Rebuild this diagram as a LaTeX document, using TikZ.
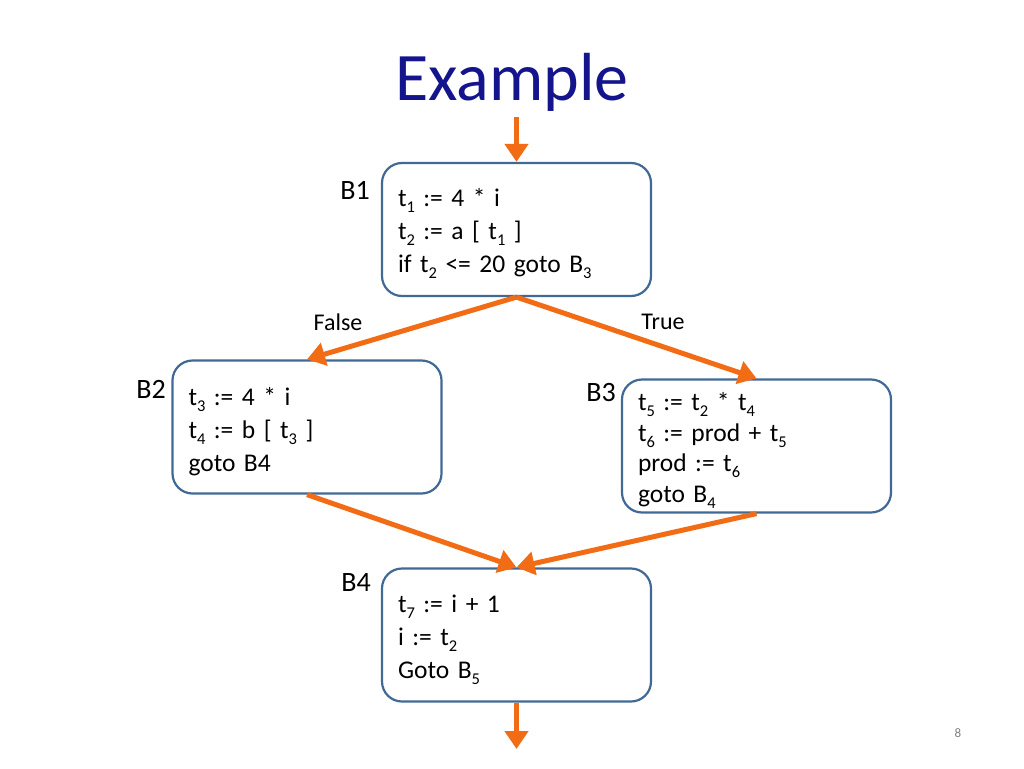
\documentclass[tikz,border=0pt]{standalone}
\usepackage{fontspec}
\setmainfont{Carlito}
\newfontfamily\codeff[WordSpace=0.6]{Carlito}
\usetikzlibrary{arrows.meta}
\definecolor{boxline}{RGB}{65,105,150}
\definecolor{arrowc}{RGB}{242,108,22}
\definecolor{titlec}{RGB}{20,20,140}
\newcommand\sbs[1]{\raisebox{-6pt}{\fontsize{16.5}{16.5}\selectfont #1}}
\newcommand\topstrut{\rule{0pt}{27pt}}
\newcommand\codefont{\codeff\fontsize{25.5}{33}\selectfont}
\newcommand\codefontb{\codeff\fontsize{25.5}{30.5}\selectfont}
\begin{document}
\begin{tikzpicture}[x=1pt,y=-1pt,
  bb/.style={draw=boxline, line width=2.2pt, rounded corners=20pt, fill=white,
    minimum height=133pt, text width=237pt, inner xsep=16pt, align=left,
    font=\codefont},
  blab/.style={font=\fontsize{28}{32}\selectfont},
  elab/.style={font=\fontsize{24}{28}\selectfont},
  flow/.style={draw=arrowc, line width=5pt, -{Triangle[length=18pt,width=23pt]}}]
\useasboundingbox (0,0) rectangle (1024,768);
\fill[white] (0,0) rectangle (1024,768);
\node[font=\fontsize{68}{72}\selectfont, text=titlec] (title) at (512,82) {Example};
\node[bb] (b1) at (516.5,229.5) {\topstrut t\sbs{1} := 4 * i\\t\sbs{2} := a [ t\sbs{1} ]\\if t\sbs{2} <= 20 goto B\sbs{3}};
\node[bb] (b2) at (307,427) {\topstrut t\sbs{3} := 4 * i\\t\sbs{4} := b [ t\sbs{3} ]\\goto B4};
\node[bb, font=\codefontb] (b3) at (756.5,446) {\topstrut t\sbs{5} := t\sbs{2} * t\sbs{4}\\t\sbs{6} := prod + t\sbs{5}\\prod := t\sbs{6}\\goto B\sbs{4}};
\node[bb] (b4) at (516.5,635) {\topstrut t\sbs{7} := i + 1\\i := t\sbs{2}\\Goto B\sbs{5}};
\node[blab] (l1) at (355,190) {B1};
\node[blab] (l2) at (151,389) {B2};
\node[blab] (l3) at (601,393) {B3};
\node[blab] (l4) at (356,583) {B4};
\coordinate (in) at (516.5,117);
\coordinate (out) at (516.5,749);
\draw[flow] (in) -- (b1.north);
\draw[flow] (b1.south) -- (b2.north);
\draw[flow] (b1.south) -- (b3.north);
\draw[flow] (b2.south) -- (b4.north);
\draw[flow] (b3.south) -- (b4.north);
\draw[flow] (b4.south) -- (out);
\node[elab] (fl) at (338,322) {False};
\node[elab] (tl) at (663,322) {True};
\node[font=\fontsize{13}{15}\selectfont, text=gray] (pg) at (958,733) {8};
\end{tikzpicture}
\end{document}
